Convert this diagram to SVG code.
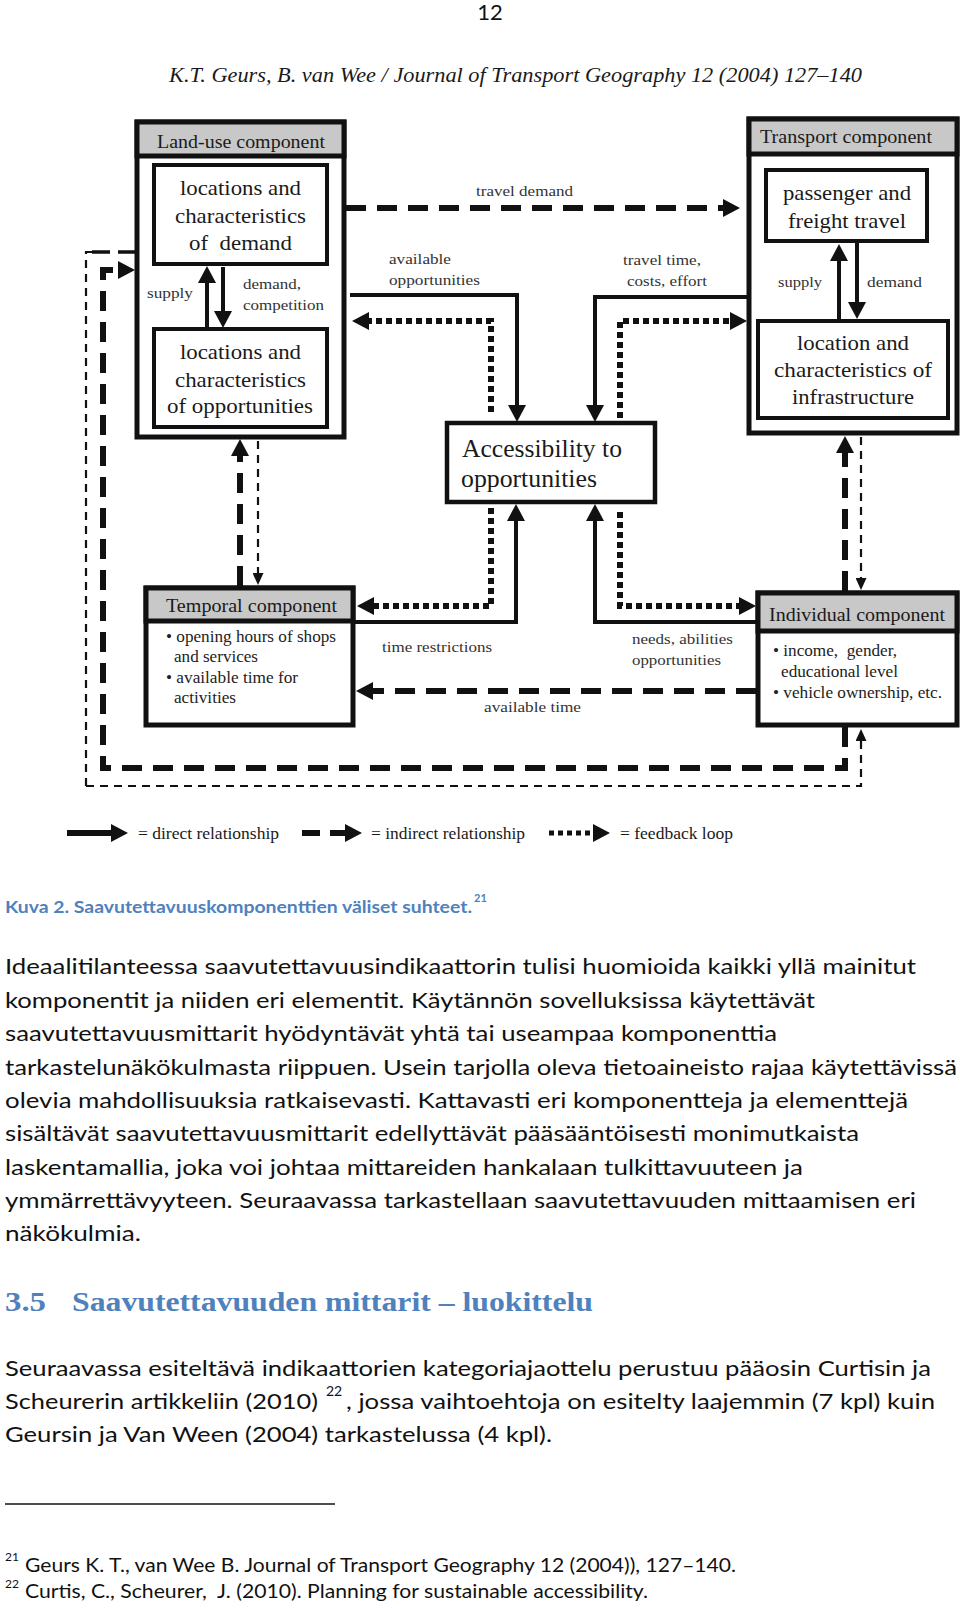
<svg xmlns="http://www.w3.org/2000/svg" width="960" height="1608" viewBox="0 0 960 1608">
<style>
.bg{fill:#fff}
.box{fill:#fff;stroke:#111;stroke-width:5}
.ibox{fill:#fff;stroke:#111;stroke-width:4}
.hdr{fill:#c8c8c8;stroke:#111;stroke-width:5}
.t{font-family:"Liberation Serif","Times New Roman",serif;fill:#1a1a1a}
.big{font-size:22px}
.hd{font-size:19px}
.lab{font-size:15px;fill:#333}
.bul{font-size:16px;fill:#222}
.solid{fill:none;stroke:#111;stroke-width:4}
.dthick{fill:none;stroke:#111;stroke-width:6;stroke-dasharray:20 11}
.dthin{fill:none;stroke:#111;stroke-width:2.2;stroke-dasharray:8 6}
.dot{fill:none;stroke:#111;stroke-width:6;stroke-dasharray:6 4}
.body{font-family:Lato,"Open Sans","Liberation Sans",sans-serif;fill:#111}
.p{font-size:22px}
.fn{font-size:19px}
.sup{font-size:12px}
.blue{fill:#4f81bd}
</style>
<defs>
<marker id="ah" markerUnits="userSpaceOnUse" markerWidth="17" markerHeight="18" refX="1" refY="9" orient="auto"><path d="M0,0 L17,9 L0,18 z" fill="#111"/></marker>
<marker id="ahs" markerUnits="userSpaceOnUse" markerWidth="12" markerHeight="11" refX="1" refY="5.5" orient="auto"><path d="M0,0 L12,5.5 L0,11 z" fill="#111"/></marker>
</defs>
<rect class="bg" x="0" y="0" width="960" height="1608"/>

<text x="490" y="20" text-anchor="middle" font-family="Lato,'Open Sans',sans-serif" font-size="22" fill="#111">12</text>
<text class="t" x="169" y="82" font-size="20" font-style="italic" fill="#333" textLength="693" lengthAdjust="spacingAndGlyphs">K.T. Geurs, B. van Wee / Journal of Transport Geography 12 (2004) 127–140</text>

<g id="landuse">
<rect class="box" x="137" y="122" width="207" height="315"/>
<rect class="hdr" x="137" y="122" width="207" height="34"/>
<text class="t hd" x="241" y="148" text-anchor="middle" textLength="168" lengthAdjust="spacingAndGlyphs">Land-use component</text>
</g>
<g id="demand">
<rect class="ibox" x="154" y="165" width="173" height="99"/>
<text class="t big" x="240.5" y="195" text-anchor="middle" textLength="121" lengthAdjust="spacingAndGlyphs">locations and</text>
<text class="t big" x="240.5" y="223" text-anchor="middle" textLength="131" lengthAdjust="spacingAndGlyphs">characteristics</text>
<text class="t big" x="240.5" y="250" text-anchor="middle" xml:space="preserve" textLength="103" lengthAdjust="spacingAndGlyphs">of  demand</text>
</g>
<g id="opportunities">
<rect class="ibox" x="154" y="329" width="173" height="98"/>
<text class="t big" x="240.5" y="359" text-anchor="middle" textLength="121" lengthAdjust="spacingAndGlyphs">locations and</text>
<text class="t big" x="240.5" y="387" text-anchor="middle" textLength="131" lengthAdjust="spacingAndGlyphs">characteristics</text>
<text class="t big" x="240" y="413" text-anchor="middle" textLength="146" lengthAdjust="spacingAndGlyphs">of opportunities</text>
</g>
<g id="landuse-labels">
<text class="t lab" x="147" y="298" textLength="46" lengthAdjust="spacingAndGlyphs">supply</text>
<text class="t lab" x="243" y="289" textLength="58" lengthAdjust="spacingAndGlyphs">demand,</text>
<text class="t lab" x="243" y="310" textLength="81" lengthAdjust="spacingAndGlyphs">competition</text>
</g>

<g id="transport">
<rect class="box" x="749" y="119" width="208" height="314"/>
<rect class="hdr" x="749" y="119" width="208" height="35"/>
<text class="t hd" x="846" y="143" text-anchor="middle" textLength="172" lengthAdjust="spacingAndGlyphs">Transport component</text>
</g>
<g id="travel">
<rect class="ibox" x="766" y="170" width="161" height="71"/>
<text class="t big" x="847" y="200" text-anchor="middle" textLength="128" lengthAdjust="spacingAndGlyphs">passenger and</text>
<text class="t big" x="847" y="228" text-anchor="middle" textLength="118" lengthAdjust="spacingAndGlyphs">freight travel</text>
</g>
<g id="infrastructure">
<rect class="ibox" x="758" y="321" width="190" height="97"/>
<text class="t big" x="853" y="350" text-anchor="middle" textLength="112" lengthAdjust="spacingAndGlyphs">location and</text>
<text class="t big" x="853" y="377" text-anchor="middle" textLength="158" lengthAdjust="spacingAndGlyphs">characteristics of</text>
<text class="t big" x="853" y="404" text-anchor="middle" textLength="122" lengthAdjust="spacingAndGlyphs">infrastructure</text>
</g>
<g id="transport-labels">
<text class="t lab" x="778" y="287" textLength="44" lengthAdjust="spacingAndGlyphs">supply</text>
<text class="t lab" x="867" y="287" textLength="55" lengthAdjust="spacingAndGlyphs">demand</text>
</g>

<g id="accessibility">
<rect class="box" x="447" y="423" width="208" height="79" style="stroke-width:4.5"/>
<text class="t" x="462" y="457" font-size="25" textLength="160" lengthAdjust="spacingAndGlyphs">Accessibility to</text>
<text class="t" x="461" y="487" font-size="25" textLength="136" lengthAdjust="spacingAndGlyphs">opportunities</text>
</g>

<g id="temporal">
<rect class="box" x="146" y="588" width="207" height="137"/>
<rect class="hdr" x="146" y="588" width="207" height="33"/>
<text class="t hd" x="251.5" y="612" text-anchor="middle" textLength="171" lengthAdjust="spacingAndGlyphs">Temporal component</text>
<text class="t bul" x="166" y="642" textLength="170" lengthAdjust="spacingAndGlyphs">• opening hours of shops</text>
<text class="t bul" x="174" y="662" textLength="84" lengthAdjust="spacingAndGlyphs">and services</text>
<text class="t bul" x="166" y="683" textLength="132" lengthAdjust="spacingAndGlyphs">• available time for</text>
<text class="t bul" x="174" y="703" textLength="62" lengthAdjust="spacingAndGlyphs">activities</text>
</g>

<g id="individual">
<rect class="box" x="758" y="593" width="199" height="132"/>
<rect class="hdr" x="758" y="593" width="199" height="38"/>
<text class="t hd" x="857" y="621" text-anchor="middle" textLength="176" lengthAdjust="spacingAndGlyphs">Individual component</text>
<text class="t bul" x="773" y="656" xml:space="preserve" textLength="124" lengthAdjust="spacingAndGlyphs">• income,  gender,</text>
<text class="t bul" x="781" y="677" textLength="117" lengthAdjust="spacingAndGlyphs">educational level</text>
<text class="t bul" x="773" y="698" textLength="169" lengthAdjust="spacingAndGlyphs">• vehicle ownership, etc.</text>
</g>

<g id="connectors">
<path class="dthick" d="M346,208 H724" marker-end="url(#ah)"/>
<path class="solid" d="M350,295 H517 V406" marker-end="url(#ah)"/>
<path class="solid" d="M749,297 H595 V406" marker-end="url(#ah)"/>
<path class="dot" d="M491,412 V321 H368" marker-end="url(#ah)"/>
<path class="dot" d="M620,418 V321 H731" marker-end="url(#ah)"/>
<path class="solid" d="M355,622 H516 V520" marker-end="url(#ah)"/>
<path class="solid" d="M756,622 H595 V520" marker-end="url(#ah)"/>
<path class="dot" d="M491,508 V606 H373" marker-end="url(#ah)"/>
<path class="dot" d="M620,512 V606 H740" marker-end="url(#ah)"/>
<path class="dthick" d="M756,691 H372" marker-end="url(#ah)"/>
<path class="dthick" d="M240,586 V455" marker-end="url(#ah)"/>
<path class="dthin" d="M258,441 V574" marker-end="url(#ahs)"/>
<path class="dthick" d="M845,591 V452" marker-end="url(#ah)"/>
<path class="dthin" d="M861,437 V579" marker-end="url(#ahs)"/>
<path class="dthick" d="M845,727 V768 H103 V270 H119" marker-end="url(#ah)"/>
<path class="dthin" d="M86,786 H861 V740" marker-end="url(#ahs)"/>
<path class="dthin" d="M86,786 V252 H100"/>
<path d="M92,252 H135" fill="none" stroke="#111" stroke-width="3.5" stroke-dasharray="18 8"/>
<path class="solid" d="M207,327 V282" marker-end="url(#ah)"/>
<path class="solid" d="M223,267 V312" marker-end="url(#ah)"/>
<path class="solid" d="M839,321 V260" marker-end="url(#ah)"/>
<path class="solid" d="M857,243 V303" marker-end="url(#ah)"/>
</g>

<g id="connector-labels">
<text class="t lab" x="476" y="196" textLength="97" lengthAdjust="spacingAndGlyphs">travel demand</text>
<text class="t lab" x="389" y="264" textLength="62" lengthAdjust="spacingAndGlyphs">available</text>
<text class="t lab" x="389" y="285" textLength="91" lengthAdjust="spacingAndGlyphs">opportunities</text>
<text class="t lab" x="623" y="265" textLength="78" lengthAdjust="spacingAndGlyphs">travel time,</text>
<text class="t lab" x="627" y="286" textLength="80" lengthAdjust="spacingAndGlyphs">costs, effort</text>
<text class="t lab" x="382" y="652" textLength="110" lengthAdjust="spacingAndGlyphs">time restrictions</text>
<text class="t lab" x="632" y="644" textLength="101" lengthAdjust="spacingAndGlyphs">needs, abilities</text>
<text class="t lab" x="632" y="665" textLength="89" lengthAdjust="spacingAndGlyphs">opportunities</text>
<text class="t lab" x="484" y="712" textLength="97" lengthAdjust="spacingAndGlyphs">available time</text>
</g>

<g id="legend">
<path d="M67,833 H112" fill="none" stroke="#111" stroke-width="6" marker-end="url(#ah)"/>
<text class="t" x="138" y="839" font-size="17" fill="#333" textLength="141" lengthAdjust="spacingAndGlyphs">= direct relationship</text>
<path d="M302,833 H346" fill="none" stroke="#111" stroke-width="6" stroke-dasharray="18 10" marker-end="url(#ah)"/>
<text class="t" x="371" y="839" font-size="17" fill="#333" textLength="154" lengthAdjust="spacingAndGlyphs">= indirect relationship</text>
<path d="M549,833 H594" fill="none" stroke="#111" stroke-width="5" stroke-dasharray="5 4" marker-end="url(#ah)"/>
<text class="t" x="620" y="839" font-size="17" fill="#333" textLength="113" lengthAdjust="spacingAndGlyphs">= feedback loop</text>
</g>

<g id="caption">
<text class="body blue" x="5" y="913" style="font-size:17px;font-weight:bold" textLength="467" lengthAdjust="spacingAndGlyphs">Kuva 2. Saavutettavuuskomponenttien väliset suhteet.</text>
<text class="body blue" x="474" y="902" style="font-size:11px;font-weight:bold">21</text>
</g>

<g id="paragraph1">
<text class="body p" x="5" y="974" textLength="911" lengthAdjust="spacingAndGlyphs">Ideaalitilanteessa saavutettavuusindikaattorin tulisi huomioida kaikki yllä mainitut</text>
<text class="body p" x="5" y="1008" textLength="810" lengthAdjust="spacingAndGlyphs">komponentit ja niiden eri elementit. Käytännön sovelluksissa käytettävät</text>
<text class="body p" x="5" y="1041" textLength="772" lengthAdjust="spacingAndGlyphs">saavutettavuusmittarit hyödyntävät yhtä tai useampaa komponenttia</text>
<text class="body p" x="5" y="1075" textLength="952" lengthAdjust="spacingAndGlyphs">tarkastelunäkökulmasta riippuen. Usein tarjolla oleva tietoaineisto rajaa käytettävissä</text>
<text class="body p" x="5" y="1108" textLength="903" lengthAdjust="spacingAndGlyphs">olevia mahdollisuuksia ratkaisevasti. Kattavasti eri komponentteja ja elementtejä</text>
<text class="body p" x="5" y="1141" textLength="854" lengthAdjust="spacingAndGlyphs">sisältävät saavutettavuusmittarit edellyttävät pääsääntöisesti monimutkaista</text>
<text class="body p" x="5" y="1175" textLength="798" lengthAdjust="spacingAndGlyphs">laskentamallia, joka voi johtaa mittareiden hankalaan tulkittavuuteen ja</text>
<text class="body p" x="5" y="1208" textLength="911" lengthAdjust="spacingAndGlyphs">ymmärrettävyyteen. Seuraavassa tarkastellaan saavutettavuuden mittaamisen eri</text>
<text class="body p" x="5" y="1241" textLength="136" lengthAdjust="spacingAndGlyphs">näkökulmia.</text>
</g>

<g id="heading">
<text class="t blue" x="5" y="1311" font-size="27" font-weight="bold" textLength="41" lengthAdjust="spacingAndGlyphs">3.5</text>
<text class="t blue" x="72" y="1311" font-size="27" font-weight="bold" textLength="521" lengthAdjust="spacingAndGlyphs">Saavutettavuuden mittarit – luokittelu</text>
</g>

<g id="paragraph2">
<text class="body p" x="5" y="1376" textLength="926" lengthAdjust="spacingAndGlyphs">Seuraavassa esiteltävä indikaattorien kategoriajaottelu perustuu pääosin Curtisin ja</text>
<text class="body p" x="5" y="1409" textLength="313" lengthAdjust="spacingAndGlyphs">Scheurerin artikkeliin (2010)</text>
<text class="body" x="326" y="1396" style="font-size:14px">22</text>
<text class="body p" x="346" y="1409" textLength="589" lengthAdjust="spacingAndGlyphs">, jossa vaihtoehtoja on esitelty laajemmin (7 kpl) kuin</text>
<text class="body p" x="5" y="1442" textLength="547" lengthAdjust="spacingAndGlyphs">Geursin ja Van Ween (2004) tarkastelussa (4 kpl).</text>
</g>

<g id="footnotes">
<path d="M5,1504 H335" stroke="#111" stroke-width="1.5"/>
<text class="body sup" x="5" y="1561">21</text>
<text class="body fn" x="25" y="1572" textLength="711" lengthAdjust="spacingAndGlyphs">Geurs K. T., van Wee B. Journal of Transport Geography 12 (2004)), 127–140.</text>
<text class="body sup" x="5" y="1588">22</text>
<text class="body fn" x="25" y="1598" xml:space="preserve" textLength="623" lengthAdjust="spacingAndGlyphs">Curtis, C., Scheurer,  J. (2010). Planning for sustainable accessibility.</text>
</g>
</svg>
